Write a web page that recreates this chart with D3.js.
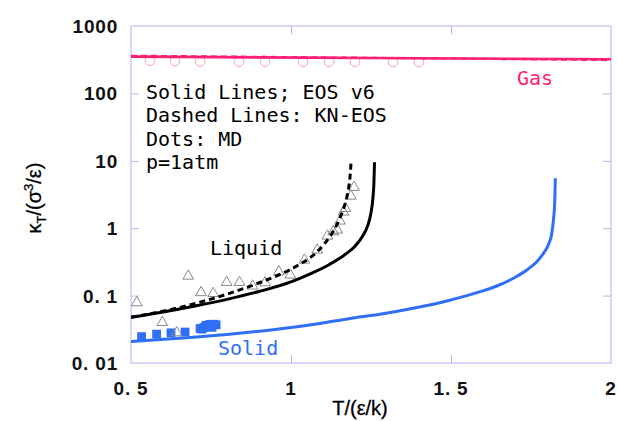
<!DOCTYPE html>
<html>
<head>
<meta charset="utf-8">
<script src="https://cdn.jsdelivr.net/npm/d3@7"></script>
<style>
  html, body { margin: 0; padding: 0; background: #fff; }
  svg { display: block; }
</style>
</head>
<body>
<svg id="chart" width="617" height="421"></svg>
<script>
// Axis ticks
const xTicks = [0.5, 1, 1.5, 2];
const xTickLabels = ["0. 5", "1", "1. 5", "2"];
const yTicks = [0.01, 0.1, 1, 10, 100, 1000];
const yTickLabels = ["0. 01", "0. 1", "1", "10", "100", "1000"];

// Liquid, EOS v6 (solid)
const liqEosT = [0.5, 0.6, 0.7, 0.8, 0.9, 1.0, 1.06, 1.12, 1.17, 1.2, 1.225, 1.24, 1.25, 1.256, 1.259, 1.261];
const liqEosK = [0.0476, 0.057, 0.07, 0.088, 0.115, 0.16, 0.21, 0.29, 0.41, 0.54, 0.78, 1.1, 1.7, 2.8, 4.6, 9.5];

// Liquid, KN-EOS (dashed)
const liqKnT = [0.5, 0.648, 0.825, 0.913, 1.018, 1.08, 1.106, 1.122, 1.1375, 1.155, 1.165, 1.177, 1.184, 1.1875];
const liqKnK = [0.0476, 0.066, 0.115, 0.163, 0.275, 0.44, 0.6, 0.76, 1.0, 1.5, 2.0, 3.3, 5.5, 9.2];

// Liquid, MD (triangles)
const liqMdT = [0.518, 0.598, 0.643, 0.679, 0.719, 0.757, 0.799, 0.839, 0.88, 0.919, 0.962, 0.998, 1.042, 1.082, 1.114, 1.132, 1.145, 1.153, 1.164, 1.17, 1.187, 1.197];
const liqMdK = [0.0785, 0.04, 0.0282, 0.195, 0.111, 0.108, 0.157, 0.157, 0.139, 0.155, 0.226, 0.202, 0.337, 0.475, 0.766, 0.887, 0.94, 1.28, 1.74, 1.97, 3.0, 4.05];

// Solid, EOS v6 (solid)
const solEosT = [0.5, 0.65, 0.8, 0.95, 1.09, 1.18, 1.278, 1.382, 1.487, 1.591, 1.643, 1.695, 1.737, 1.768, 1.789, 1.804, 1.815, 1.82, 1.824, 1.826];
const solEosK = [0.0208, 0.0232, 0.0265, 0.0315, 0.0385, 0.0455, 0.0528, 0.0648, 0.0832, 0.1143, 0.1388, 0.1806, 0.24, 0.318, 0.424, 0.563, 0.84, 1.32, 2.34, 5.5];

// Solid, MD (squares)
const solMdT = [0.533, 0.58, 0.625, 0.669, 0.716, 0.728, 0.741, 0.734, 0.747, 0.759, 0.766, 0.753, 0.722];
const solMdK = [0.0246, 0.0268, 0.028, 0.0288, 0.0325, 0.0336, 0.0348, 0.0362, 0.0374, 0.0376, 0.0368, 0.0338, 0.0318];

// Gas, EOS v6 (solid) and KN-EOS (dashed)
const gasEosT = [0.5, 1.25, 2.0];
const gasEosK = [351, 335, 321];
const gasKnT = [0.5, 1.25, 2.0];
const gasKnK = [362, 337, 312];

// Gas, MD (circles)
const gasMdT = [0.559, 0.6375, 0.716, 0.8375, 0.919, 1.0375, 1.119, 1.2, 1.319, 1.4];
const gasMdK = [306, 302, 298, 296, 296, 294, 294, 293, 292, 291];

const PINK = "#ff1f73";
const BLUE = "#2f6ff5";
const FRAME = "#b4b4ee";

const svg = d3.select("#chart");
const plotLeft = 131, plotRight = 611, plotTop = 26, plotBottom = 363;

const x = d3.scaleLinear().domain([0.5, 2]).range([plotLeft, plotRight]);
const y = d3.scaleLog().domain([0.01, 1000]).range([plotBottom, plotTop]);

const zip = (a, b) => a.map((v, i) => [v, b[i]]);

// Frame
svg.append("rect")
  .attr("x", plotLeft).attr("y", plotTop)
  .attr("width", plotRight - plotLeft).attr("height", plotBottom - plotTop)
  .attr("fill", "none").attr("stroke", FRAME).attr("stroke-width", 1);

// Inward ticks on all four sides (labels drawn separately)
const tickLen = 8;
const innerX = xTicks.slice(1, -1);
const innerY = yTicks.slice(1, -1);
const axisStyle = g => {
  g.select(".domain").remove();
  g.selectAll(".tick line").attr("stroke", FRAME);
  g.selectAll(".tick text").remove();
};
svg.append("g").attr("transform", `translate(0,${plotBottom})`)
  .call(d3.axisBottom(x).tickValues(innerX).tickSize(-tickLen)).call(axisStyle);
svg.append("g").attr("transform", `translate(0,${plotTop})`)
  .call(d3.axisTop(x).tickValues(innerX).tickSize(-tickLen)).call(axisStyle);
svg.append("g").attr("transform", `translate(${plotLeft},0)`)
  .call(d3.axisLeft(y).tickValues(innerY).tickSize(-tickLen)).call(axisStyle);
svg.append("g").attr("transform", `translate(${plotRight},0)`)
  .call(d3.axisRight(y).tickValues(innerY).tickSize(-tickLen)).call(axisStyle);

// Tick labels
const labelFont = "'Liberation Sans', Arial, sans-serif";
svg.append("g").selectAll("text").data(xTicks).join("text")
  .attr("x", d => x(d)).attr("y", 395)
  .attr("text-anchor", "middle")
  .attr("font-family", labelFont).attr("font-size", 19).attr("font-weight", "bold")
  .attr("letter-spacing", 0.8)
  .attr("fill", "#111")
  .text((d, i) => xTickLabels[i]);
svg.append("g").selectAll("text").data(yTicks).join("text")
  .attr("x", 118).attr("y", d => y(d) + 7)
  .attr("text-anchor", "end")
  .attr("font-family", labelFont).attr("font-size", 19).attr("font-weight", "bold")
  .attr("letter-spacing", 0.8)
  .attr("fill", "#111")
  .text((d, i) => yTickLabels[i]);

// Axis titles
svg.append("text")
  .attr("x", 360).attr("y", 415)
  .attr("text-anchor", "middle")
  .attr("font-family", labelFont).attr("font-size", 20)
  .attr("stroke", "#000").attr("stroke-width", 0.3)
  .text("T/(ε/k)");

const yTitle = svg.append("text")
  .attr("transform", "translate(41,198) rotate(-90)")
  .attr("text-anchor", "middle")
  .attr("font-family", labelFont).attr("font-size", 20)
  .attr("stroke", "#000").attr("stroke-width", 0.3);
yTitle.append("tspan").text("κ");
yTitle.append("tspan").attr("font-size", 13).attr("dy", 5).text("T");
yTitle.append("tspan").attr("dy", -5).text("/(σ");
yTitle.append("tspan").attr("font-size", 13).attr("dy", -8).text("3");
yTitle.append("tspan").attr("dy", 8).text("/ε)");

// Plot contents clipped to the frame
svg.append("clipPath").attr("id", "plotClip")
  .append("rect").attr("x", plotLeft).attr("y", plotTop)
  .attr("width", plotRight - plotLeft).attr("height", plotBottom - plotTop);
const plot = svg.append("g").attr("clip-path", "url(#plotClip)");

const line = d3.line().x(d => x(d[0])).y(d => y(d[1])).curve(d3.curveMonotoneX);

// MD: solid phase squares
const sq = 8.8;
plot.append("g").selectAll("rect").data(zip(solMdT, solMdK)).join("rect")
  .attr("x", d => x(d[0]) - sq / 2).attr("y", d => y(d[1]) - sq / 2)
  .attr("width", sq).attr("height", sq)
  .attr("fill", BLUE);

// MD: liquid triangles
const tri = d3.symbol().type(d3.symbolTriangle).size(50);
plot.append("g").selectAll("path").data(zip(liqMdT, liqMdK)).join("path")
  .attr("d", tri)
  .attr("transform", d => `translate(${x(d[0])},${y(d[1])})`)
  .attr("fill", "none").attr("stroke", "#888").attr("stroke-width", 1);

// MD: gas circles
plot.append("g").selectAll("circle").data(zip(gasMdT, gasMdK)).join("circle")
  .attr("cx", d => x(d[0])).attr("cy", d => y(d[1])).attr("r", 4.8)
  .attr("fill", "none").attr("stroke", "#ff9dbd").attr("stroke-width", 1);

// Gas lines
plot.append("path").datum(zip(gasKnT, gasKnK)).attr("d", line)
  .attr("fill", "none").attr("stroke", PINK).attr("stroke-width", 2.2).attr("stroke-dasharray", "6,4");
plot.append("path").datum(zip(gasEosT, gasEosK)).attr("d", line)
  .attr("fill", "none").attr("stroke", PINK).attr("stroke-width", 2.6);

// Solid phase line
plot.append("path").datum(zip(solEosT, solEosK)).attr("d", line)
  .attr("fill", "none").attr("stroke", BLUE).attr("stroke-width", 3);

// Liquid lines
plot.append("path").datum(zip(liqEosT, liqEosK)).attr("d", line)
  .attr("fill", "none").attr("stroke", "#000").attr("stroke-width", 3);
plot.append("path").datum(zip(liqKnT, liqKnK)).attr("d", line)
  .attr("fill", "none").attr("stroke", "#000").attr("stroke-width", 3).attr("stroke-dasharray", "6,4");

// Annotations
const mono = "'DejaVu Sans Mono', monospace";
const notes = ["Solid Lines; EOS v6", "Dashed Lines: KN-EOS", "Dots: MD", "p=1atm"];
svg.append("g").selectAll("text").data(notes).join("text")
  .attr("x", 146).attr("y", (d, i) => 99 + i * 23.4)
  .attr("font-family", mono).attr("font-size", 20).attr("fill", "#000")
  .text(d => d);

svg.append("text").attr("x", 210).attr("y", 255)
  .attr("font-family", mono).attr("font-size", 20).attr("fill", "#000").text("Liquid");
svg.append("text").attr("x", 218).attr("y", 355)
  .attr("font-family", mono).attr("font-size", 20).attr("fill", BLUE).text("Solid");
svg.append("text").attr("x", 517).attr("y", 85)
  .attr("font-family", mono).attr("font-size", 20).attr("fill", PINK).text("Gas");
</script>
</body>
</html>
